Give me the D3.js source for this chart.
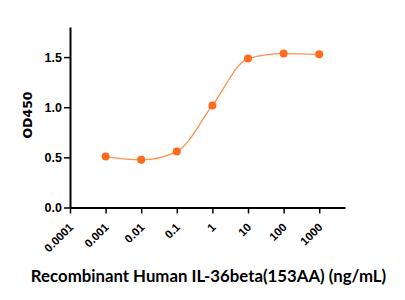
<!DOCTYPE html>
<html>
<head>
<meta charset="utf-8">
<script src="https://cdn.jsdelivr.net/npm/d3@7"></script>
<style>
  body { margin: 0; background: #fff; }
  svg { display: block; font-family: "DejaVu Sans", Verdana, sans-serif; }
</style>
</head>
<body>
<svg id="chart" width="405" height="300"></svg>
<script>
// concentration (ng/mL) and OD450
const concentrations = [0.001, 0.01, 0.1, 1, 10, 100, 1000];
const od450 = [0.508, 0.475, 0.558, 1.018, 1.485, 1.535, 1.528];
const xTickValues = [0.0001, 0.001, 0.01, 0.1, 1, 10, 100, 1000];
const xTickLabels = ["0.0001", "0.001", "0.01", "0.1", "1", "10", "100", "1000"];
const yTickValues = [0, 0.5, 1.0, 1.5];

(function (d) {
  const svg = d3.select("#chart");
  const margin = {top: 27, right: 60, bottom: 92, left: 70};
  const width = 405, height = 300;

  const x = d3.scaleLog()
    .domain([0.0001, 5300])
    .range([margin.left, width - margin.right]);

  const y = d3.scaleLinear()
    .domain([0, 1.8])
    .range([height - margin.bottom - 0.5, margin.top]);

  const points = concentrations.map((c, i) => ({c: c, v: od450[i]}));

  // x axis
  const xAxis = svg.append("g")
    .attr("transform", `translate(0,${y(0)})`)
    .call(d3.axisBottom(x).tickValues(xTickValues)
      .tickFormat((v, i) => xTickLabels[i]).tickSize(6).tickSizeOuter(0));
  xAxis.select(".domain").attr("stroke-width", 2);
  xAxis.selectAll(".tick line").attr("stroke-width", 1.5);
  xAxis.selectAll(".tick text")
    .attr("font-size", 11.5)
    .attr("font-weight", "bold")
    .attr("fill", "#000")
    .attr("text-anchor", "end")
    .attr("dy", null)
    .attr("y", 0)
    .attr("transform", "translate(3.5,20.5) rotate(-45)");

  // y axis
  const yAxis = svg.append("g")
    .attr("transform", `translate(${margin.left},0)`)
    .call(d3.axisLeft(y).tickValues(yTickValues)
      .tickFormat(d3.format(".1f")).tickSize(6).tickSizeOuter(0));
  yAxis.select(".domain").attr("stroke-width", 2);
  yAxis.selectAll(".tick line").attr("stroke-width", 1.5);
  yAxis.selectAll(".tick text")
    .attr("font-size", 12.5)
    .attr("font-weight", "bold")
    .attr("fill", "#000")
    .attr("x", -8);

  // curve through the points
  const line = d3.line()
    .x(p => x(p.c))
    .y(p => y(p.v))
    .curve(d3.curveMonotoneX);

  svg.append("path")
    .datum(points)
    .attr("fill", "none")
    .attr("stroke", "#ff9050")
    .attr("stroke-width", 1.3)
    .attr("d", line);

  svg.append("g")
    .selectAll("circle")
    .data(points)
    .enter().append("circle")
    .attr("cx", p => x(p.c))
    .attr("cy", p => y(p.v))
    .attr("r", 4)
    .attr("fill", "#ff6a1c");

  // titles
  svg.append("text")
    .attr("x", 27)
    .attr("y", 115)
    .attr("transform", "rotate(-90,27,115)")
    .attr("text-anchor", "middle")
    .attr("dominant-baseline", "central")
    .attr("font-size", 12.5)
    .attr("font-weight", "bold")
    .text("OD450");

  svg.append("text")
    .attr("x", 208.5)
    .attr("y", 281.5)
    .attr("text-anchor", "middle")
    .attr("font-family", "Lato, sans-serif")
    .attr("font-size", 16.8)
    .attr("font-weight", "bold")
    .text("Recombinant Human IL-36beta(153AA) (ng/mL)");
}(document));
</script>
</body>
</html>
